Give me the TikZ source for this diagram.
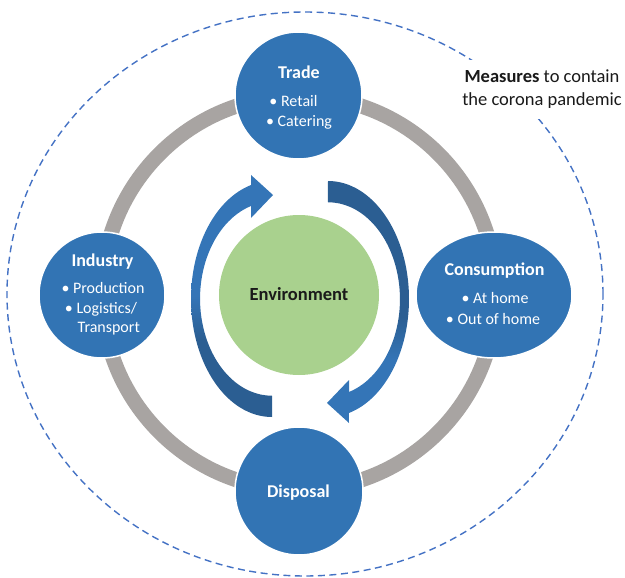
\documentclass[tikz,border=0pt]{standalone}
\usepackage{fontspec}
\setmainfont{Carlito}
\usetikzlibrary{shapes.geometric}
\definecolor{nodeblue}{RGB}{50,116,180}
\definecolor{arlight}{RGB}{52,117,183}
\definecolor{ardark}{RGB}{43,94,146}
\definecolor{ringgray}{RGB}{168,164,162}
\definecolor{envgreen}{RGB}{169,209,142}
\definecolor{dashblue}{RGB}{68,114,196}
\definecolor{textdark}{RGB}{26,26,26}
\pgfdeclareverticalshading{rshade}{100bp}{color(0bp)=(arlight); color(38bp)=(arlight); color(47bp)=(ardark); color(100bp)=(ardark)}
\pgfdeclareverticalshading{lshade}{100bp}{color(0bp)=(ardark); color(41bp)=(ardark); color(50bp)=(arlight); color(100bp)=(arlight)}
\begin{document}
\begin{tikzpicture}[x=1pt, y=-1pt,
  bluecirc/.style={circle, fill=nodeblue, draw=white, line width=1.5pt, inner sep=0pt},
  titletext/.style={text=white, font=\fontsize{18}{22}\selectfont\bfseries, anchor=base, inner sep=0pt},
  itemtext/.style={text=white, font=\fontsize{16}{20}\selectfont, anchor=base, inner sep=0pt},
  ring/.style={draw=ringgray, line width=15pt}
]
\useasboundingbox (0,0) rectangle (625,578);

% outer dashed boundary
\node[ellipse, draw=dashblue, line width=1.4pt, dash pattern=on 7pt off 4.5pt,
      minimum width=596pt, minimum height=564pt, inner sep=0pt] (boundary) at (305,294) {};

% gray cycle ring
\coordinate (ringc) at (299,293);
\draw[ring] (ringc) circle [radius=197];

% stage nodes
\node[bluecirc, minimum size=127pt] (trade) at (298.5,95.5) {};
\node[bluecirc, minimum size=128pt] (disposal) at (299,491) {};
\node[bluecirc, minimum size=126pt] (industry) at (102,295) {};
\node[ellipse, fill=nodeblue, draw=white, line width=1.5pt, inner sep=0pt,
      minimum width=156pt, minimum height=126pt] (consumption) at (494,295) {};

% centre
\node[circle, fill=envgreen, minimum size=160pt, inner sep=0pt] (environment) at (299,295) {};
\node[anchor=base, inner sep=0pt, text=textdark, font=\fontsize{18.5}{22}\selectfont\bfseries] (envtext) at (299,300) {Environment};

% curved arrows
\shade[shading=rshade] (328,181) arc[start angle=-90, end angle=75, x radius=81, y radius=118]
  -- (349,423) -- (327,403) -- (349,380) -- (349,392)
  arc[start angle=73, end angle=-90, x radius=72, y radius=97] -- cycle;
\shade[shading=lshade] (272,417) arc[start angle=90, end angle=255, x radius=81, y radius=118]
  -- (251,175) -- (273,195) -- (251,218) -- (251,206)
  arc[start angle=253, end angle=90, x radius=72, y radius=97] -- cycle;

% texts
\node[titletext] (tradetitle) at (299,79) {Trade};
\node[itemtext] (trade1) at (293.5,107) {• Retail};
\node[itemtext] (trade2) at (299,127) {• Catering};

\node[titletext] (industrytitle) at (102.5,266) {Industry};
\node[itemtext] (industry1) at (103,293) {• Production};
\node[itemtext] (industry2) at (101,313) {• Logistics/};
\node[itemtext] (industry3) at (103,332) {\phantom{• }Transport};

\node[titletext] (consumptiontitle) at (494.5,276) {Consumption};
\node[itemtext] (consumption1) at (495,303) {• At home};
\node[itemtext] (consumption2) at (493,324) {• Out of home};

\node[titletext] (disposaltitle) at (298.5,497) {Disposal};

\node[fill=white, align=center, inner xsep=5pt, inner ysep=10pt, text=textdark,
      font=\fontsize{18.5}{23}\selectfont] (measures) at (542,89.5)
      {\textbf{Measures} to contain\\the corona pandemic};
\end{tikzpicture}
\end{document}
